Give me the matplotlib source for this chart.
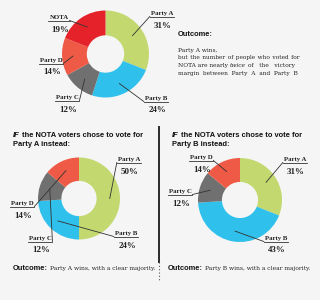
import matplotlib
matplotlib.use('Agg')
from matplotlib import pyplot as plt
import numpy as np

# data
parties = ['Party A', 'Party B', 'Party C', 'Party D', 'NOTA']
actual = [31, 24, 12, 14, 19]
if_nota_to_a = [50, 24, 12, 14]
if_nota_to_b = [31, 43, 12, 14]
colors = ['#c3d970', '#30c0ec', '#707070', '#ee5a45', '#e5222a']

W, H = 320, 300
fig = plt.figure(figsize=(3.2, 3.0), dpi=100, facecolor='#f5f5f5')
ax = fig.add_axes([0, 0, 1, 1])
ax.set_facecolor('#f5f5f5')
renderer = fig.canvas.get_renderer()


def width_of(s, props):
    t = ax.text(0, 0, s, **props)
    w = t.get_window_extent(renderer).width
    t.remove()
    return w


def fit(props, s, target):
    # pick the font size that gives the text the width seen in the picture
    p = dict(props)
    p['size'] = props['size'] * target / width_of(s, props)
    return p


lab_font = dict(family='Liberation Serif', weight='bold', size=4.9, color='#222222')
pct_font = dict(family='Liberation Serif', weight='bold', size=6.4, color='#222222')
sans_b = fit(dict(family='Liberation Sans', weight='bold', size=6, color='#111111'),
             'IF the NOTA voters chose to vote for', 132)
sans_bi = dict(sans_b, style='italic')
serif = fit(dict(family='DejaVu Serif', size=5, color='#222222'),
            'but the number of people who voted for', 121)
serif_i = dict(serif, style='italic')
serif2 = fit(dict(family='DejaVu Serif', size=5, color='#222222'),
             'Party A wins, with a clear majority.', 107)

HAIR = '\u200a'


def justify(s, props, width):
    # widen the gaps with hair spaces until the line fills the width
    k = 0
    out = s
    while True:
        cand = s.replace(' ', ' ' + HAIR * (k + 1))
        if width_of(cand, props) > width:
            return out
        out = cand
        k += 1


def put_runs(x, y, runs):
    # draw text made of styled pieces one after the other
    cx = x
    for s, p in runs:
        t = ax.text(cx, H - y, s, ha='left', va='baseline', **p)
        cx += t.get_window_extent(renderer).width + 0.3 * p['size'] * 100 / 72


def draw_pie(cx, cy, R, values, labels, label_pos):
    ax.pie(values, colors=colors[:len(values)], startangle=90, counterclock=False,
           center=(cx, H - cy), radius=R,
           wedgeprops=dict(width=R * 0.57, linewidth=0))
    cum = np.cumsum([0] + list(values))
    total = cum[-1]
    for i, (name, v) in enumerate(zip(labels, values)):
        mid = np.deg2rad(90 - 360 * (cum[i] + cum[i + 1]) / 2 / total)
        axp, ayp = cx + 0.75 * R * np.cos(mid), H - cy + 0.75 * R * np.sin(mid)
        tx, ty = label_pos[i]
        t = ax.text(tx, H - ty, name, ha='center', va='baseline', **lab_font)
        w = t.get_window_extent(renderer).width + 2
        uy = H - ty - 1.5
        x0, x1 = tx - w / 2, tx + w / 2
        near = x0 if tx > axp else x1
        ax.plot([x0, x1], [uy, uy], color='#333333', lw=0.6)
        ax.plot([near, axp], [uy, ayp], color='#333333', lw=0.6)
        ax.text(tx + 1, H - ty - 12.5, '%d%%' % v, ha='center', va='baseline', **pct_font)


# actual result
draw_pie(105.5, 54, 43.5, actual, parties,
         [(162, 15), (156, 100), (67, 99), (51, 62), (59, 19)])
# NOTA votes go to party A
draw_pie(79, 198.5, 41, if_nota_to_a, parties[:4],
         [(129, 161), (126, 235), (40, 240), (22, 205)])
# NOTA votes go to party B
draw_pie(240, 200, 42, if_nota_to_b, parties[:4],
         [(295, 161), (276, 240), (180, 193), (201, 159)])

# top right text
put_runs(178, 36, [('Outcome:', sans_b)])
put_runs(178, 52, [('Party A wins,', serif)])
put_runs(178, 59.5, [(justify('but the number of people who voted for', serif, 123), serif)])
put_runs(178, 67, [(justify('NOTA are nearly', serif, 50), serif), ('twice', serif_i),
                   (justify('of the victory', serif, 47), serif)])
put_runs(178, 74.5, [(justify('margin between Party A and Party B', serif, 123), serif)])

# scenario headers
put_runs(13, 137, [('IF', sans_bi), ('the NOTA voters chose to vote for', sans_b)])
put_runs(13, 146, [('Party A instead:', sans_b)])
put_runs(172, 137, [('IF', sans_bi), ('the NOTA voters chose to vote for', sans_b)])
put_runs(172, 146, [('Party B instead:', sans_b)])

# outcomes
put_runs(13, 270, [('Outcome:', sans_b), ('Party A wins, with a clear majority.', serif2)])
put_runs(168, 270, [('Outcome:', sans_b), ('Party B wins, with a clear majority.', serif2)])

# divider
ax.plot([159, 159], [H - 127, H - 262], color='#2a2a2a', lw=1.4)
ax.plot([159, 159], [H - 262, H - 280], color='#555555', lw=0.8, ls=(0, (1, 2)))

ax.set_xlim(0, W)
ax.set_ylim(0, H)
ax.set_aspect('auto')
ax.axis('off')
fig.savefig('out.png', dpi=100, facecolor=fig.get_facecolor())
